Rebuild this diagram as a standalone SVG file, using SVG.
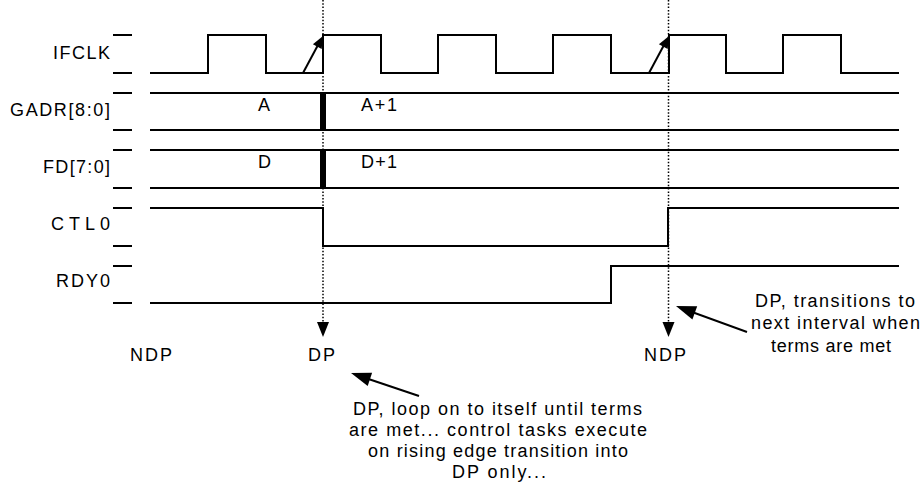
<svg xmlns="http://www.w3.org/2000/svg" width="923" height="496" viewBox="0 0 923 496">
<style>
text{font-family:"Liberation Sans",Arial,sans-serif;font-size:18px;fill:#000}
.sig{fill:none;stroke:#000;stroke-width:2}
.tick{stroke:#000;stroke-width:2}
.dot{stroke:#000;stroke-width:1.5;stroke-dasharray:1.5 1.8;fill:none}
.arr{stroke:#000;stroke-width:2;fill:none}
.head{fill:#000;stroke:none}
</style>
<rect width="923" height="496" fill="#fff"/>
<g id="ticks">
<path class="tick" d="M113,35H132M113,73H132M113,93H132M113,130H132M113,150H132M113,188H132M113,208H132M113,246H132M113,266H132M113,303H132"/>
</g>
<g id="IFCLK">
<text x="110" y="59" text-anchor="end" textLength="57" lengthAdjust="spacing">IFCLK</text>
<path class="sig" d="M150,73H208V35H266V73H323V35H381V73H438V35H496V73H553V35H611V73H669V35H726V73H783V35H841V73H899"/>
</g>
<g id="GADR">
<text x="110" y="116" text-anchor="end" textLength="100" lengthAdjust="spacing">GADR[8:0]</text>
<path class="sig" d="M150,93H899M150,130H899"/>
<rect x="320" y="93" width="6" height="37" fill="#000"/>
<text x="258" y="111">A</text>
<text x="361" y="111" textLength="36" lengthAdjust="spacing">A+1</text>
</g>
<g id="FD">
<text x="110" y="173" text-anchor="end" textLength="67" lengthAdjust="spacing">FD[7:0]</text>
<path class="sig" d="M150,150H899M150,188H899"/>
<rect x="320" y="150" width="6" height="38" fill="#000"/>
<text x="258" y="168">D</text>
<text x="361" y="168" textLength="36" lengthAdjust="spacing">D+1</text>
</g>
<g id="CTL0">
<text x="110" y="230" text-anchor="end" textLength="59" lengthAdjust="spacing">CTL0</text>
<path class="sig" d="M150,208H323V246H668V208H899"/>
</g>
<g id="RDY0">
<text x="110" y="287" text-anchor="end" textLength="54" lengthAdjust="spacing">RDY0</text>
<path class="sig" d="M150,303H611V266H899"/>
</g>
<g id="states">
<text x="130" y="361" textLength="42" lengthAdjust="spacing">NDP</text>
<text x="308" y="361" textLength="27" lengthAdjust="spacing">DP</text>
<text x="644" y="361" textLength="42" lengthAdjust="spacing">NDP</text>
</g>
<g id="note-right">
<text x="755" y="307" textLength="160" lengthAdjust="spacing">DP, transitions to</text>
<text x="751" y="329" textLength="169" lengthAdjust="spacing">next interval when</text>
<text x="771" y="352" textLength="120" lengthAdjust="spacing">terms are met</text>
</g>
<g id="note-bottom">
<text x="353" y="415" textLength="289" lengthAdjust="spacing">DP, loop on to itself until terms</text>
<text x="349" y="436" textLength="298" lengthAdjust="spacing">are met... control tasks execute</text>
<text x="368" y="457" textLength="260" lengthAdjust="spacing">on rising edge transition into</text>
<text x="452" y="478" textLength="94" lengthAdjust="spacing">DP only...</text>
</g>
<g id="connectors">
<path class="dot" d="M323,0V322M668.5,0V322"/>
<polygon class="head" points="317,322 329,322 323,337"/>
<polygon class="head" points="662.5,322 674.5,322 668.5,337"/>
<path class="arr" d="M303,73L318,45"/>
<polygon class="head" points="323,36 321.7,49 312.9,44.2"/>
<path class="arr" d="M649,73L664,45"/>
<polygon class="head" points="669,36 667.7,49 658.9,44.2"/>
<path class="arr" d="M419,396L367,378.5"/>
<polygon class="head" points="351,373 372.1,372.8 367.7,386"/>
<path class="arr" d="M747,332L692,312"/>
<polygon class="head" points="676,306 697.2,306.3 692.4,319.5"/>
</g>
</svg>
